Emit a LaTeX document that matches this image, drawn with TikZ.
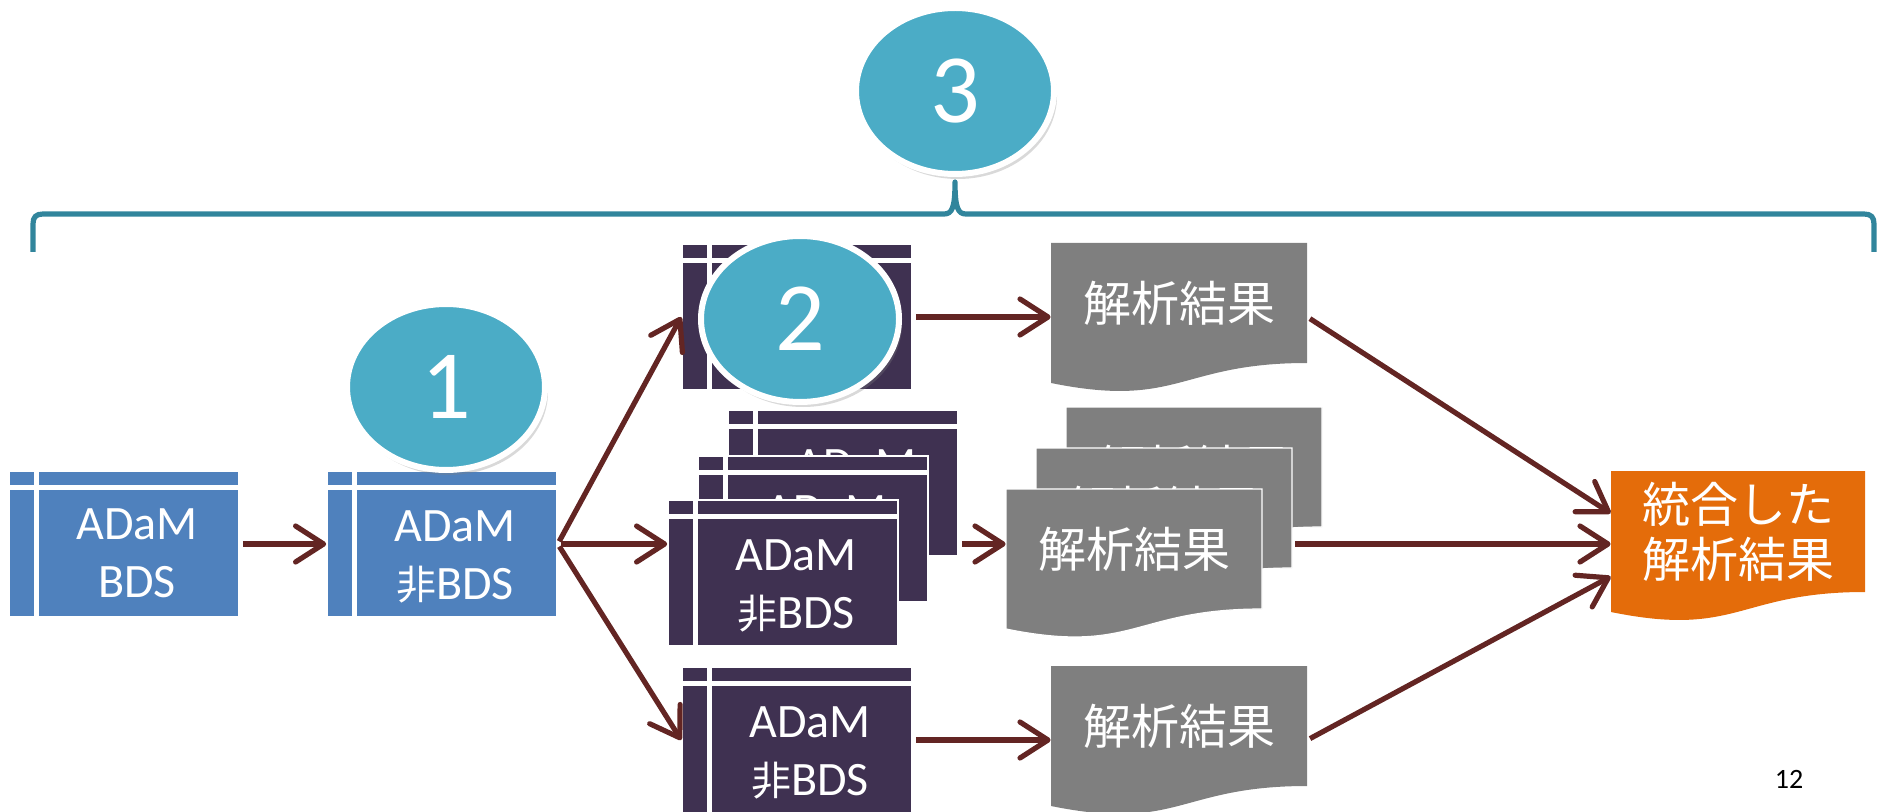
\documentclass[tikz,border=0pt]{standalone}
\usepackage{fontspec}
\setmainfont{Carlito}
\newfontfamily\jp{Noto Sans CJK JP}
\usepackage{tikz}
\usetikzlibrary{arrows.meta,shapes.geometric,shadows,calc}

\definecolor{boxblue}{HTML}{4F81BD}
\definecolor{boxpurple}{HTML}{3F3151}
\definecolor{docgray}{HTML}{7F7F7F}
\definecolor{docorange}{HTML}{E46C0A}
\definecolor{circblue}{HTML}{4BACC6}
\definecolor{braceteal}{HTML}{31859C}
\definecolor{arrowred}{HTML}{632523}

\begin{document}
\begin{tikzpicture}[x=0.5pt,y=-0.5pt,
  tbl/.style={rectangle, inner sep=0pt, minimum width=115pt, minimum height=73pt, draw=white, line width=0.8pt,
    path picture={
      \draw[white, line width=2.5pt] ([xshift=13.5pt]path picture bounding box.north west) -- ([xshift=13.5pt]path picture bounding box.south west);
      \draw[white, line width=2.4pt] ([yshift=-8.2pt]path picture bounding box.north west) -- ([yshift=-8.2pt]path picture bounding box.north east);}},
  tbltext/.style={text=white, align=center, inner sep=0pt, xshift=6.5pt, yshift=-6.4pt, font={\fontsize{24}{29}\selectfont}},
  doctext/.style={inner sep=0pt, minimum width=128pt, minimum height=60pt, text=white, align=center, font={\jp\fontsize{24}{27.5}\selectfont}},
  docedge/.style={draw=white, line width=0.6pt},
  flow/.style={draw=arrowred, line width=2.6pt, -{Straight Barb[length=14pt,width=18pt,round]}, shorten <=1.5pt},
  numc/.style={ellipse, inner sep=0pt, minimum width=99pt, minimum height=83pt, fill=circblue, draw=white, line width=3pt, text=white,
    font={\fontsize{49}{49}\selectfont}, drop shadow={shadow xshift=1.5pt, shadow yshift=-2.5pt, opacity=0.3}},
  brace/.style={draw=braceteal, line width=2.6pt, line join=round}]

\useasboundingbox (0,0) rectangle (1878,812);

% ADaM tables
\node[tbl, fill=boxblue] (b1) at (124,544) {};
\node[tbltext, name=b1t, yshift=1.6pt] at (b1) {ADaM\\BDS};
\node[tbl, fill=boxblue] (b2) at (442,544) {};
\node[tbltext, name=b2t] at (b2) {ADaM\\{\jp\fontsize{20}{29}\selectfont 非}BDS};
\node[tbl, fill=boxpurple] (btop) at (797,317) {};
\node[tbltext, name=btopt] at (btop) {ADaM\\{\jp\fontsize{20}{29}\selectfont 非}BDS};
% stack of tables
\node[tbl, fill=boxpurple] (bs1) at (843,483) {};
\node[tbltext, name=bs1t] at (bs1) {ADaM\\{\jp\fontsize{20}{29}\selectfont 非}BDS};
\node[tbl, fill=boxpurple] (bs2) at (813,529) {};
\node[tbltext, name=bs2t] at (bs2) {ADaM\\{\jp\fontsize{20}{29}\selectfont 非}BDS};
\node[tbl, fill=boxpurple] (bs3) at (783,573) {};
\node[tbltext, name=bs3t] at (bs3) {ADaM\\{\jp\fontsize{20}{29}\selectfont 非}BDS};
\node[tbl, fill=boxpurple] (bbot) at (797,740) {};
\node[tbltext, name=bbott] at (bbot) {ADaM\\{\jp\fontsize{20}{29}\selectfont 非}BDS};

% result documents
\fill[docgray] (1051,243) -- (1307,243) -- (1307,363) .. controls (1179,363) and (1179,409) .. (1051,383) -- cycle;
\node[doctext] (dtop) at (1179,303) {解析結果};
\filldraw[docgray, docedge] (1066,407) -- (1322,407) -- (1322,527) .. controls (1194,527) and (1194,573) .. (1066,547) -- cycle;
\node[doctext] (ds1) at (1194,467) {解析結果};
\filldraw[docgray, docedge] (1036,448) -- (1292,448) -- (1292,568) .. controls (1164,568) and (1164,614) .. (1036,588) -- cycle;
\node[doctext] (ds2) at (1164,508) {解析結果};
\filldraw[docgray, docedge] (1006,489) -- (1262,489) -- (1262,609) .. controls (1134,609) and (1134,655) .. (1006,629) -- cycle;
\node[doctext] (ds3) at (1134,549) {解析結果};
\fill[docgray] (1051,666) -- (1307,666) -- (1307,786) .. controls (1179,786) and (1179,832) .. (1051,806) -- cycle;
\node[doctext] (dbot) at (1179,726) {解析結果};
% merged result
\fill[docorange] (1611,471) -- (1865,471) -- (1865,592) .. controls (1738,592) and (1738,638) .. (1611,612) -- cycle;
\node[doctext, minimum width=127pt, minimum height=60.5pt] (dfin) at (1738,531.5) {統合した\\解析結果};

% arrows
\draw[flow] (b1) -- (b2);
\draw[flow] (b2.east) -- (btop.west);
\draw[flow] (b2.east) -- (b2 -| bs3.west);
\draw[flow] (b2.east) -- (bbot.west);
\draw[flow] (btop) -- (btop -| dtop.west);
\draw[flow] (b2 -| bs1.east) -- (b2 -| ds3.west);
\draw[flow] (bbot) -- (bbot -| dbot.west);
\draw[flow] (btop -| dtop.east) -- ($(dfin.north west)!0.35!(dfin.south west)$);
\draw[flow] (b2 -| ds2.east) -- (b2 -| dfin.west);
\draw[flow] (bbot -| dbot.east) -- ($(dfin.north west)!0.87!(dfin.south west)$);

% numbered ovals
\node[numc] (c1) at (446,387) {1};
\node[numc] (c2) at (800,319) {2};
\node[numc] (c3) at (955,91) {3};

% brace under oval 3
\draw[brace] (33,252) -- (33,224) .. controls (33,217) and (36,214) .. (43,214) -- (944,214)
  .. controls (952,214) and (955,208) .. (c3.south |- 0,182) .. controls (955,208) and (958,214) .. (966,214)
  -- (1864,214) .. controls (1871,214) and (1874,217) .. (1874,224) -- (1874,252);

% page number
\node[font={\fontsize{14}{14}\selectfont}] (pg) at (1789,779) {12};

\end{tikzpicture}
\end{document}
